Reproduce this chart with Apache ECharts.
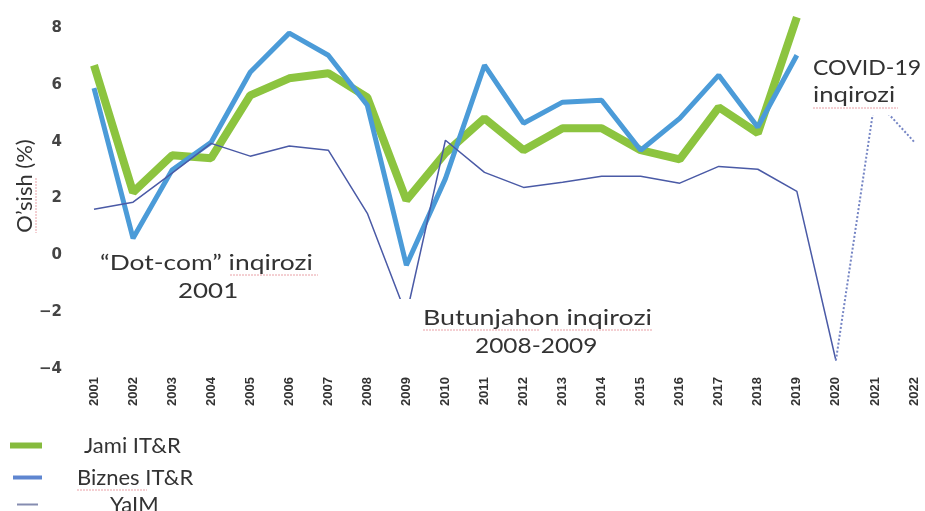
<!DOCTYPE html>
<html><head><meta charset="utf-8">
<script src="https://cdn.jsdelivr.net/npm/echarts@6/dist/echarts.min.js"></script>
<style>html,body{margin:0;padding:0;background:#fff}#c{width:925px;height:511px}</style>
</head><body><div id="c"></div>
<script>
var years = ['2001','2002','2003','2004','2005','2006','2007','2008','2009','2010','2011','2012','2013','2014','2015','2016','2017','2018','2019','2020','2021','2022'];
var jami = [6.69,2.22,3.52,3.42,5.63,6.23,6.41,5.56,1.94,3.6,4.82,3.7,4.47,4.47,3.7,3.38,5.21,4.3,8.38,null,null,null];
var biznes = [5.88,0.6,3.0,3.98,6.44,7.82,7.04,5.28,-0.35,2.7,6.69,4.65,5.39,5.46,3.7,4.82,6.34,4.51,7.04,null,null,null];
var yaim = [1.62,1.87,2.89,3.94,3.49,3.85,3.7,1.48,-2.1,4.05,2.92,2.39,2.57,2.78,2.78,2.54,3.13,3.03,2.25,-3.7,null,null];
var yaimForecast = [null,null,null,null,null,null,null,null,null,null,null,null,null,null,null,null,null,null,null,-3.7,5.5,4.0];
var yTicks = [-4,-2,0,2,4,6,8];
var legendNames = ['Jami IT&R','Biznes IT&R','YaIM'];
var yTitle = "O\u2019sish (%)";

var chart = echarts.init(document.getElementById('c'));
var annFont = 'Lato, "Open Sans", sans-serif';
var red = '#e9a0a6';
function mkLegend(name, left, top, w, h, pad, color){
  return {orient:'vertical',left:left,top:top,padding:0,itemWidth:w,itemHeight:h,icon:'rect',
    textStyle:{fontSize:22,lineHeight:25,color:'#333',fontFamily:annFont,padding:[0,0,0,pad]},
    data:[{name:name,itemStyle:{color:color}}]};
}
function ann(text, x, y, sx){
  return {type:'text',z:101,x:x,y:y,scaleX:sx,originX:0,originY:0,
    style:{text:text,font:'22px '+annFont,fill:'#333',verticalAlign:'top',align:'left'}};
}
function ul(x1,y1,x2,y2){
  return {type:'line',z:102,shape:{x1:x1,y1:y1,x2:x2,y2:y2},style:{stroke:red,lineWidth:1,lineDash:[2,1]}};
}
chart.setOption({
  animation:false,
  grid:{left:94,right:11,top:28,bottom:142},
  xAxis:{type:'category',data:years,boundaryGap:false,
    axisLine:{show:false},axisTick:{show:false},
    axisLabel:{rotate:90,margin:8,fontSize:13,fontWeight:'bold',color:'#333',fontFamily:'"Liberation Sans Narrow","Liberation Sans",sans-serif'}},
  yAxis:{type:'value',min:yTicks[0],max:yTicks[yTicks.length-1],interval:2,
    splitLine:{show:false},axisLine:{show:false},axisTick:{show:false},
    axisLabel:{margin:32,fontSize:15,fontWeight:'bold',color:'#444',fontFamily:'"DejaVu Sans","Liberation Sans",sans-serif',
      formatter:function(v){return v<0?'\u2212'+Math.abs(v):String(v);}}},
  legend:[
    mkLegend(legendNames[0],10,433,32,6,37,'#86bb3e'),
    mkLegend(legendNames[1],13,465,29,4,30,'#5f86d0'),
    mkLegend(legendNames[2],17,492,21,2,67,'#858cb0')
  ],
  series:[
    {name:legendNames[0],type:'line',data:jami,symbol:'none',clip:false,
      lineStyle:{color:'#8cc43f',width:8},itemStyle:{color:'#8cc43f'},z:2},
    {name:legendNames[1],type:'line',data:biznes,symbol:'none',clip:false,
      lineStyle:{color:'#4b9bd8',width:5},itemStyle:{color:'#4b9bd8'},z:3},
    {name:legendNames[2],type:'line',data:yaim,symbol:'none',clip:false,
      lineStyle:{color:'#4a5aa6',width:1.5},itemStyle:{color:'#4a5aa6'},z:4},
    {name:'YaIM prognoz',type:'line',data:yaimForecast,symbol:'none',clip:false,
      lineStyle:{color:'#7585c4',width:2,type:'dotted'},itemStyle:{color:'#7585c4'},z:4}
  ],
  graphic:[
    {type:'text',z:101,x:25,y:186,rotation:Math.PI/2,
      style:{text:yTitle,font:'22px '+annFont,fill:'#333',align:'center',verticalAlign:'middle'}},
    {type:'rect',z:100,shape:{x:394,y:299,width:264,height:62},style:{fill:'#fff'}},
    {type:'rect',z:100,shape:{x:806,y:52,width:119,height:63},style:{fill:'#fff'}},
    ann('\u201cDot-com\u201d inqirozi',100,252,1.2),
    ann('2001',178,280,1.18),
    ann('Butunjahon inqirozi',423,307,1.22),
    ann('2008-2009',475,335,1.11),
    ann('COVID-19',813,57,1.05),
    ann('inqirozi',813,84,1.17),
    ul(230,275,318,275),
    ul(423,330,540,330),
    ul(551,330,652,330),
    ul(813,108,898,108),
    ul(36,178,36,233),
    ul(77,490,147,490)
  ]
});
</script></body></html>
